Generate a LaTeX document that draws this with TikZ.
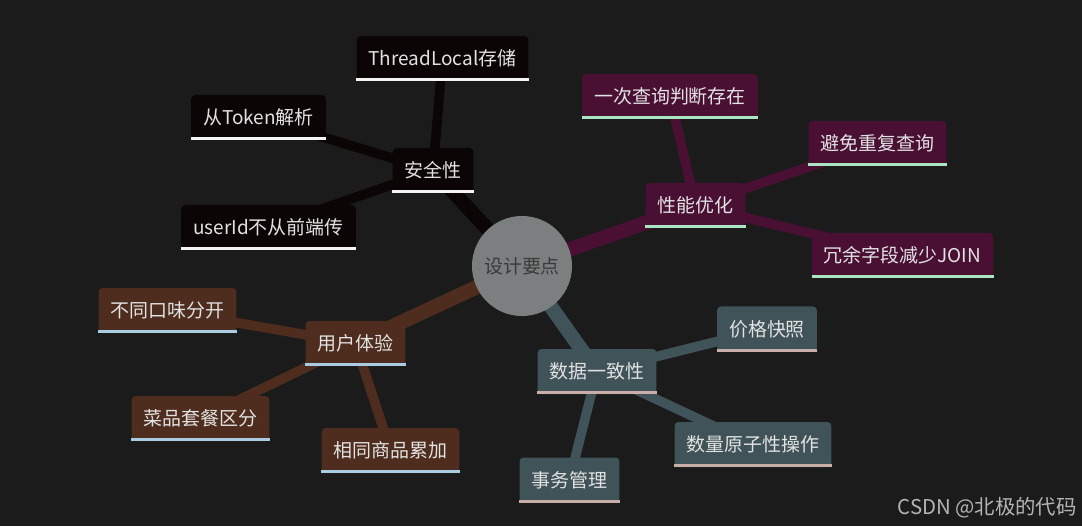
\documentclass[tikz,border=0pt]{standalone}
\usepackage{fontspec}
\setmainfont{Noto Sans CJK SC}
\definecolor{bgdark}{HTML}{1B1B1B}
\definecolor{rootgray}{HTML}{7B7F80}
\definecolor{roottext}{HTML}{3A3A3A}
\definecolor{txtlight}{HTML}{E2E2E2}
\definecolor{safecol}{HTML}{0C0506}
\definecolor{perfcol}{HTML}{4A1034}
\definecolor{usercol}{HTML}{4E2D1E}
\definecolor{datacol}{HTML}{3F5358}
\definecolor{lnwhite}{HTML}{F4F4F4}
\definecolor{lngreen}{HTML}{A9E5C2}
\definecolor{lnblue}{HTML}{A8CDE2}
\definecolor{lnpink}{HTML}{C9AEA9}
\definecolor{marktext}{HTML}{B4B4B4}
\pgfdeclarelayer{bg}
\pgfdeclarelayer{edges}
\pgfsetlayers{bg,edges,main}

\begin{document}
\begin{tikzpicture}[
x=0.025cm, y=-0.025cm,
font=\fontsize{13.5}{16}\selectfont,
box/.style={
fill=#1,
text=txtlight,
rounded corners=0.1cm,
minimum height=1.125cm,
inner xsep=0.3cm,
inner ysep=0pt
},
root/.style={circle, fill=rootgray, text=roottext, minimum size=2.5cm, inner sep=0pt},
branch/.style={draw=#1, line width=0.36cm},
twig/.style={draw=#1, line width=0.24cm},
uline/.style={draw=#1, line width=0.075cm}
]

\begin{pgfonlayer}{bg}
\fill[bgdark] (0,0) rectangle (1082,526);
\end{pgfonlayer}
\useasboundingbox (0,0) rectangle (1082,526);

% Root
\node[root] (core) at (522,266) {设计要点};

% Branch: security
\node[box=safecol] (safe) at (433,170.5) {安全性};
\node[box=safecol] (tlocal) at (442.5,58.5) {ThreadLocal存储};
\node[box=safecol] (token) at (258.5,117.5) {从Token解析};
\node[box=safecol] (uid) at (268.5,227.5) {userId不从前端传};

% Branch: performance
\node[box=perfcol] (perf) at (695.5,205.5) {性能优化};
\node[box=perfcol] (once) at (670,96.5) {一次查询判断存在};
\node[box=perfcol] (norep) at (877.5,143.5) {避免重复查询};
\node[box=perfcol] (redund) at (902.5,255.5) {冗余字段减少JOIN};

% Branch: user experience
\node[box=usercol] (ux) at (355.5,343.5) {用户体验};
\node[box=usercol] (flavor) at (167.5,310.5) {不同口味分开};
\node[box=usercol] (dish) at (200.5,418.5) {菜品套餐区分};
\node[box=usercol] (accum) at (390.5,450.5) {相同商品累加};

% Branch: data consistency
\node[box=datacol] (cons) at (597,371.5) {数据一致性};
\node[box=datacol] (price) at (767,329) {价格快照};
\node[box=datacol] (atomic) at (753,444.5) {数量原子性操作};
\node[box=datacol] (trans) at (569.5,480) {事务管理};

% Connectors
\begin{pgfonlayer}{edges}
\draw[branch=safecol] (core.center) -- (safe.center);
\draw[branch=perfcol] (core.center) -- (perf.center);
\draw[branch=usercol] (core.center) -- (ux.center);
\draw[branch=datacol] (core.center) -- (cons.center);
\foreach \p/\c/\col in {safe/tlocal/safecol, safe/token/safecol, safe/uid/safecol,
  perf/once/perfcol, perf/norep/perfcol, perf/redund/perfcol,
  ux/flavor/usercol, ux/dish/usercol, ux/accum/usercol,
  cons/price/datacol, cons/atomic/datacol, cons/trans/datacol}
  \draw[twig=\col] (\p.center) -- (\c.center);
\end{pgfonlayer}

% Underlines
\foreach \n/\col in {safe/lnwhite, tlocal/lnwhite, token/lnwhite, uid/lnwhite,
  perf/lngreen, once/lngreen, norep/lngreen, redund/lngreen,
  ux/lnblue, flavor/lnblue, dish/lnblue, accum/lnblue,
  cons/lnpink, price/lnpink, atomic/lnpink, trans/lnpink}
  \draw[uline=\col] ([yshift=0.0375cm]\n.south west) -- ([yshift=0.0375cm]\n.south east);

% Watermark
\node[text=marktext, font=\fontsize{14.5}{17}\selectfont, anchor=east, inner sep=0pt] (mark) at (1077,508) {CSDN @北极的代码};

\end{tikzpicture}
\end{document}
